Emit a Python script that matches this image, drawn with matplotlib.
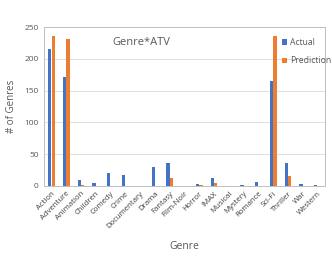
import numpy as np
import matplotlib.pyplot as plt

plt.rcParams['font.family'] = ['Open Sans', 'DejaVu Sans']

genres = ["Action", "Adventure", "Animation", "Children", "Comedy", "Crime",
          "Documentary", "Drama", "Fantasy", "Film-Noir", "Horror", "IMAX",
          "Musical", "Mystery", "Romance", "Sci-Fi", "Thriller", "War", "Western"]
actual = [215, 171, 10, 4, 21, 17, 0, 30, 36, 0, 3, 13, 0, 1, 6, 165, 36, 3, 1]
prediction = [236, 231, 1, 0, 0, 0, 0, 0, 13, 0, 1, 5, 0, 0, 0, 236, 15, 0, 0]

blue = "#4472C4"
orange = "#ED7D31"

fig = plt.figure(figsize=(3.32, 2.70), dpi=100)
ax = fig.add_axes([44/332, 1 - 186/270, 281/332, 159/270])

x = np.arange(len(genres))
w = 0.22
ax.bar(x - w/2 - 0.01, actual, w, color=blue, label="Actual", zorder=3)
ax.bar(x + w/2 + 0.01, prediction, w, color=orange, label="Prediction", zorder=3)

ax.set_xlim(-0.5, len(genres) - 0.5)
ax.set_ylim(0, 250)
ax.set_yticks([0, 50, 100, 150, 200, 250])
ax.yaxis.grid(True, color="#d9d9d9", linewidth=0.6, zorder=0)
ax.set_xticks(x)
ax.set_xticklabels(genres, rotation=45, ha="right", rotation_mode="anchor", fontsize=5.6)
ax.tick_params(axis="y", labelsize=6, length=0, pad=4, colors="#595959")
ax.tick_params(axis="x", length=0, pad=3, colors="#404040")
for s in ax.spines.values():
    s.set_color("#bfbfbf")
    s.set_linewidth(0.7)

ax.set_ylabel("# of Genres", fontsize=7, color="#595959", labelpad=5)
ax.set_xlabel("Genre", fontsize=7.5, color="#595959", labelpad=8)
ax.text(0.245, 0.885, "Genre*ATV", transform=ax.transAxes, fontsize=8,
        color="#595959")
ax.legend(loc="upper right", bbox_to_anchor=(1.05, 0.98), fontsize=6.2, frameon=False,
          handlelength=0.6, handleheight=0.6, handletextpad=0.3, labelspacing=1.1,
          labelcolor="#595959")

fig.savefig("out.png", dpi=100)
